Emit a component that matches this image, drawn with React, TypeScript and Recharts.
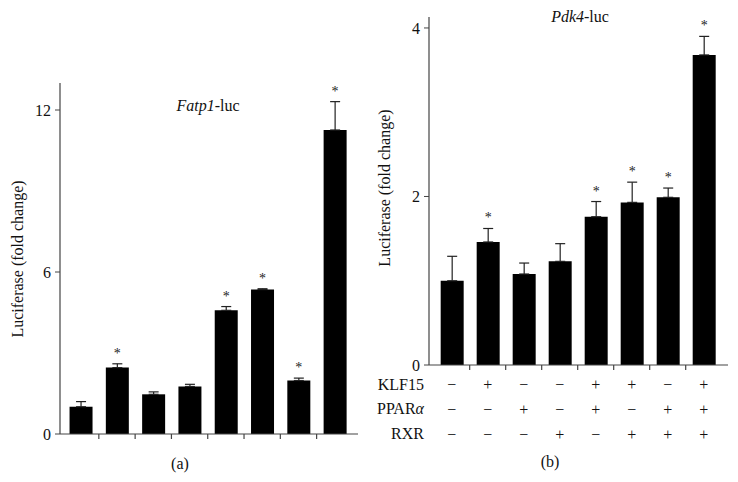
import React from 'react';
import { BarChart, Bar, XAxis, YAxis, ErrorBar, LabelList } from 'recharts';

// conditions 1..8 in both panels
const conditions = [1, 2, 3, 4, 5, 6, 7, 8];

const fatp1Mean = [1.01, 2.46, 1.47, 1.76, 4.58, 5.35, 1.98, 11.26];
const fatp1Err = [0.19, 0.14, 0.09, 0.08, 0.14, 0.03, 0.09, 1.05];
const fatp1Sig = [false, true, false, false, true, true, true, true];

const pdk4Mean = [1.0, 1.46, 1.08, 1.23, 1.76, 1.93, 1.99, 3.68];
const pdk4Err = [0.29, 0.16, 0.13, 0.21, 0.18, 0.24, 0.11, 0.22];
const pdk4Sig = [false, true, false, false, true, true, true, true];

const klf15 = [false, true, false, false, true, true, false, true];
const pparA = [false, false, true, false, true, false, true, true];
const rxr = [false, false, false, true, false, true, true, true];
const treatmentRows = [klf15, pparA, rxr];

const fatp1Ticks = [0, 6, 12];
const pdk4Ticks = [0, 2, 4];
const gapTicks = [1.5, 2.5, 3.5, 4.5, 5.5, 6.5, 7.5];

const FONT = '"Liberation Serif", "DejaVu Serif", serif';
const AXIS = '#444';

const fatp1Data = conditions.map((c, i) => ({
  pos: c,
  mean: fatp1Mean[i],
  err: [0, fatp1Err[i]],
}));

const pdk4Data = conditions.map((c, i) => ({
  pos: c,
  mean: pdk4Mean[i],
  err: [0, pdk4Err[i]],
}));

const starLabel = (errs: number[], sigs: boolean[]) => (props: any) => {
  const { x, y, width, height, value, index } = props;
  if (!sigs[index] || !value) return null;
  const pxPerUnit = height / value;
  const capY = y - errs[index] * pxPerUnit;
  return (
    <text
      key={`star-${index}`}
      x={x + width / 2}
      y={capY - 6}
      textAnchor="middle"
      fontSize={14}
      fontFamily={FONT}
      fill="#222"
    >
      *
    </text>
  );
};

// ticks between bars get a short mark, ticks at bar centres get the +/- table
const AxisTick = (props: any) => {
  const { x, y, payload, withTable } = props;
  const v = payload.value;
  if (Number.isInteger(v)) {
    if (!withTable) return null;
    return (
      <g>
        {treatmentRows.map((row, r) => (
          <text
            key={r}
            x={x}
            y={y + 24.5 + r * 25}
            textAnchor="middle"
            fontSize={16}
            fontFamily={FONT}
            fill="#111"
          >
            {row[v - 1] ? '+' : '\u2212'}
          </text>
        ))}
      </g>
    );
  }
  return <line x1={x} x2={x} y1={y} y2={y + 5} stroke={AXIS} strokeWidth={1.2} />;
};

const yTick = { fill: '#111', fontSize: 16, fontFamily: FONT };

export default function App() {
  return (
    <div style={{ position: 'absolute', left: 0, top: 0, width: 738, height: 482, background: '#fff' }}>
      <div style={{ position: 'absolute', left: 0, top: 0 }}>
        <BarChart width={369} height={482} data={fatp1Data} margin={{ top: 83, right: 11, bottom: 0, left: 0 }}>
          <XAxis
            type="number"
            dataKey="pos"
            domain={[0.43, 8.64]}
            ticks={gapTicks}
            interval={0}
            height={48}
            tickSize={0}
            tickMargin={0}
            tickLine={false}
            tick={<AxisTick withTable={false} />}
            axisLine={{ stroke: AXIS, strokeWidth: 1.2 }}
          />
          <YAxis
            type="number"
            domain={[0, 13]}
            ticks={fatp1Ticks}
            width={60}
            tickSize={5}
            tickMargin={4}
            tick={yTick}
            axisLine={{ stroke: AXIS, strokeWidth: 1.2 }}
            tickLine={{ stroke: AXIS }}
          />
          <Bar dataKey="mean" fill="#000" barSize={23} isAnimationActive={false}>
            <ErrorBar dataKey="err" width={5} stroke="#222" strokeWidth={1.2} direction="y" />
            <LabelList dataKey="mean" content={starLabel(fatp1Err, fatp1Sig)} />
          </Bar>
        </BarChart>
      </div>
      <div style={{ position: 'absolute', left: 369, top: 0 }}>
        <BarChart width={369} height={482} data={pdk4Data} margin={{ top: 17, right: 10, bottom: 0, left: 0 }}>
          <XAxis
            type="number"
            dataKey="pos"
            domain={[0.37, 8.675]}
            ticks={[...conditions, ...gapTicks].sort((a, b) => a - b)}
            interval={0}
            height={117}
            tickSize={0}
            tickMargin={0}
            tickLine={false}
            tick={<AxisTick withTable={true} />}
            axisLine={{ stroke: AXIS, strokeWidth: 1.2 }}
          />
          <YAxis
            type="number"
            domain={[0, 4.13]}
            ticks={pdk4Ticks}
            width={60}
            tickSize={5}
            tickMargin={4}
            tick={yTick}
            axisLine={{ stroke: AXIS, strokeWidth: 1.2 }}
            tickLine={{ stroke: AXIS }}
          />
          <Bar dataKey="mean" fill="#000" barSize={23} isAnimationActive={false}>
            <ErrorBar dataKey="err" width={5} stroke="#222" strokeWidth={1.2} direction="y" />
            <LabelList dataKey="mean" content={starLabel(pdk4Err, pdk4Sig)} />
          </Bar>
        </BarChart>
      </div>
      <svg
        width={738}
        height={482}
        style={{ position: 'absolute', left: 0, top: 0, pointerEvents: 'none' }}
        fontFamily={FONT}
        fontSize={16}
        fill="#111"
      >
        <text x={208} y={111} textAnchor="middle">
          <tspan fontStyle="italic">Fatp1</tspan>-luc
        </text>
        <text x={580} y={22} textAnchor="middle">
          <tspan fontStyle="italic">Pdk4</tspan>-luc
        </text>
        <text x={22.7} y={259} textAnchor="middle" transform="rotate(-90 22.7 259)">
          Luciferase (fold change)
        </text>
        <text x={389.7} y={188} textAnchor="middle" transform="rotate(-90 389.7 188)">
          Luciferase (fold change)
        </text>
        <text x={424} y={389.5} textAnchor="end">KLF15</text>
        <text x={424} y={414} textAnchor="end">
          PPAR<tspan fontStyle="italic">α</tspan>
        </text>
        <text x={424} y={438.5} textAnchor="end">RXR</text>
        <text x={180} y={468.5} textAnchor="middle">(a)</text>
        <text x={550} y={466.5} textAnchor="middle">(b)</text>
      </svg>
    </div>
  );
}
